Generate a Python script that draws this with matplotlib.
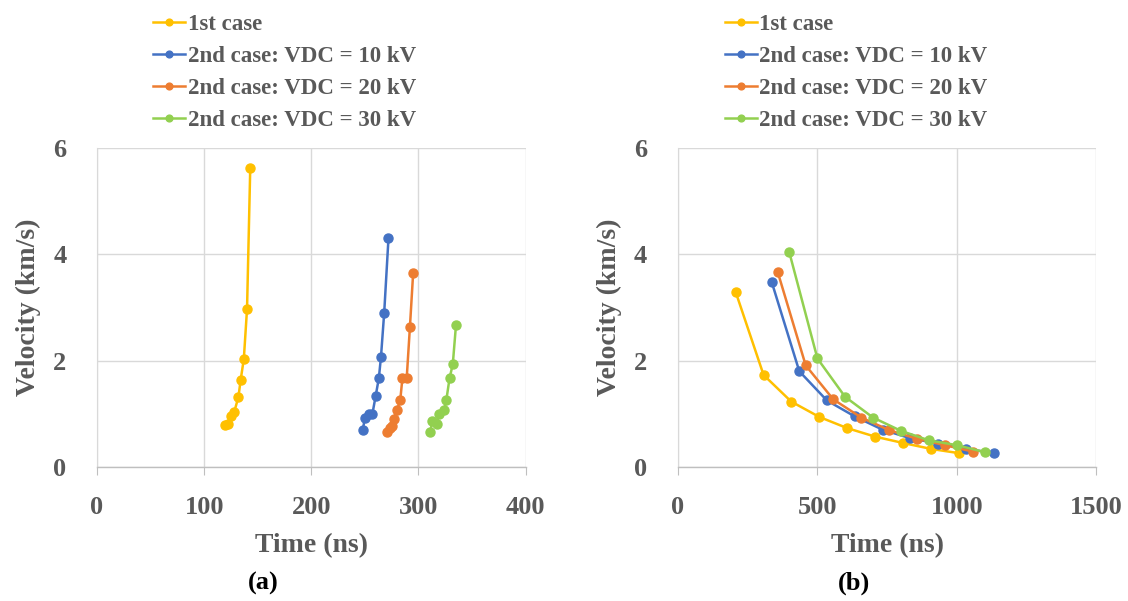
import numpy as np
import matplotlib
matplotlib.use("Agg")
import matplotlib.pyplot as plt

# -----------------------------
# DATA
# -----------------------------
labels = ["1st case", "2nd case: VDC = 10 kV", "2nd case: VDC = 20 kV", "2nd case: VDC = 30 kV"]
colors = ["#FFC000", "#4472C4", "#ED7D31", "#92D050"]

# panel (a)
a_t_case1 = [119, 122, 125, 128, 132, 134, 137, 140, 143]
a_v_case1 = [0.79, 0.81, 0.96, 1.03, 1.32, 1.63, 2.03, 2.97, 5.62]
a_t_10kv = [248, 250, 254, 257, 260, 263, 265, 268, 272]
a_v_10kv = [0.69, 0.93, 1.00, 1.00, 1.33, 1.67, 2.07, 2.90, 4.30]
a_t_20kv = [271, 273, 275, 277, 280, 283, 285, 289, 292, 295]
a_v_20kv = [0.66, 0.74, 0.77, 0.91, 1.07, 1.26, 1.67, 1.67, 2.63, 3.64]
a_t_30kv = [311, 313, 317, 319, 324, 326, 329, 332, 335]
a_v_30kv = [0.66, 0.87, 0.80, 1.00, 1.07, 1.26, 1.67, 1.93, 2.67]

# panel (b)
b_t_case1 = [207, 307, 406, 507, 607, 707, 808, 907, 1007]
b_v_case1 = [3.29, 1.73, 1.23, 0.94, 0.73, 0.57, 0.45, 0.34, 0.26]
b_t_10kv = [336, 435, 534, 634, 734, 833, 933, 1034, 1134]
b_v_10kv = [3.48, 1.80, 1.25, 0.95, 0.70, 0.54, 0.44, 0.34, 0.26]
b_t_20kv = [358, 458, 557, 657, 758, 857, 957, 1057]
b_v_20kv = [3.66, 1.91, 1.27, 0.93, 0.69, 0.53, 0.41, 0.29]
b_t_30kv = [399, 500, 599, 699, 799, 900, 1000, 1099]
b_v_30kv = [4.04, 2.04, 1.32, 0.93, 0.68, 0.50, 0.41, 0.28]

a_series = [(a_t_case1, a_v_case1), (a_t_10kv, a_v_10kv), (a_t_20kv, a_v_20kv), (a_t_30kv, a_v_30kv)]
b_series = [(b_t_case1, b_v_case1), (b_t_10kv, b_v_10kv), (b_t_20kv, b_v_20kv), (b_t_30kv, b_v_30kv)]

# -----------------------------
# STYLE
# -----------------------------
plt.rcParams["font.family"] = ["Liberation Serif", "DejaVu Serif"]
plt.rcParams["font.weight"] = "bold"
TXT = "#595959"
GRID = "#D9D9D9"

fig = plt.figure(figsize=(11.28, 6.01), dpi=100)
ax_a = fig.add_axes([0.086, 0.223, 0.380, 0.531])
ax_b = fig.add_axes([0.601, 0.223, 0.371, 0.531])


def style_axes(ax, xmax, xstep, legend_x):
    ax.set_xlim(0, xmax)
    ax.set_ylim(0, 6)
    ax.set_xticks(np.arange(0, xmax + 1, xstep))
    ax.set_yticks([0, 2, 4, 6])
    ax.grid(True, color=GRID, linewidth=1.0)
    ax.set_axisbelow(True)
    for side in ["top", "right"]:
        ax.spines[side].set_visible(False)
    ax.spines["left"].set_color(GRID)
    ax.spines["bottom"].set_color("#BFBFBF")
    ax.spines["bottom"].set_linewidth(1.0)
    ax.tick_params(axis="x", direction="out", length=6, color="#BFBFBF",
                   labelsize=19, labelcolor=TXT, pad=15)
    ax.tick_params(axis="y", length=0, labelsize=19, labelcolor=TXT, pad=22)
    ax.set_xlabel("Time (ns)", fontsize=20, color=TXT, fontweight="bold", labelpad=10)
    ax.set_ylabel("Velocity (km/s)", fontsize=20, color=TXT, fontweight="bold", labelpad=9)
    leg = ax.legend(loc="lower left", bbox_to_anchor=(legend_x, 1.03), frameon=False,
                    fontsize=16.5, handlelength=1.4, handletextpad=0.1,
                    labelspacing=0.48, borderaxespad=0.1, borderpad=0.2,
                    markerscale=0.75)
    for t in leg.get_texts():
        t.set_color(TXT)


for (t, v), c, lab in zip(a_series, colors, labels):
    ax_a.plot(t, v, color=c, marker="o", markersize=6.5, linewidth=1.8, label=lab)
for (t, v), c, lab in zip(b_series, colors, labels):
    ax_b.plot(t, v, color=c, marker="o", markersize=6.5, linewidth=1.8, label=lab)

style_axes(ax_a, 400, 100, 0.115)
style_axes(ax_b, 1500, 500, 0.095)

fig.text(0.233, 0.03, "(a)", fontsize=19, fontweight="bold", color="black",
         ha="center", va="center")
fig.text(0.757, 0.03, "(b)", fontsize=19, fontweight="bold", color="black",
         ha="center", va="center")

fig.savefig("out.png", dpi=100)
